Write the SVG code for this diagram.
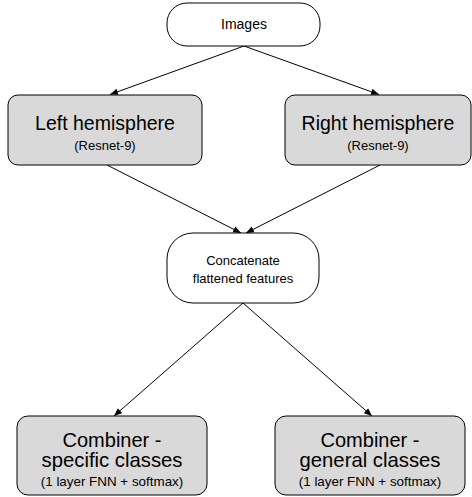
<svg xmlns="http://www.w3.org/2000/svg" width="472" height="497" viewBox="0 0 472 497">
<style>
.box{fill:#d9d9d9;stroke:#000;stroke-width:1}
.term{fill:#fff;stroke:#000;stroke-width:1}
text{font-family:"Liberation Sans",Arial,sans-serif;fill:#000;text-anchor:middle}
.big{font-size:19.5px}
.small{font-size:13px}
.mid{font-size:13px}
.conn{stroke:#000;stroke-width:1;fill:none;marker-end:url(#arr)}
</style>
<defs>
<marker id="arr" viewBox="0 0 10 10" refX="10" refY="5" markerWidth="8" markerHeight="8" markerUnits="userSpaceOnUse" orient="auto">
<path d="M0,1 L10,5 L0,9 Z" fill="#000"/>
</marker>
</defs>
<rect width="472" height="497" fill="#fff"/>
<g id="connectors">
<line class="conn" x1="244" y1="46" x2="110" y2="94.5"/>
<line class="conn" x1="244" y1="46" x2="379" y2="94.5"/>
<line class="conn" x1="107" y1="165" x2="241" y2="233"/>
<line class="conn" x1="380" y1="165" x2="246" y2="233"/>
<line class="conn" x1="243" y1="303" x2="114" y2="416"/>
<line class="conn" x1="243" y1="303" x2="372" y2="416"/>
</g>
<g id="images">
<rect class="term" x="167" y="3" width="153" height="43" rx="20"/>
<text class="mid" x="244" y="29" style="font-size:14px">Images</text>
</g>
<g id="left">
<rect class="box" x="8" y="95" width="194" height="70" rx="10"/>
<text class="big" x="105" y="130">Left hemisphere</text>
<text class="small" x="105" y="150">(Resnet-9)</text>
</g>
<g id="right">
<rect class="box" x="285" y="95" width="186" height="70" rx="10"/>
<text class="big" x="378" y="130">Right hemisphere</text>
<text class="small" x="378" y="150">(Resnet-9)</text>
</g>
<g id="concat">
<rect class="term" x="167" y="233" width="152" height="70" rx="26"/>
<text class="mid" x="243" y="265">Concatenate</text>
<text class="mid" x="243" y="283">flattened features</text>
</g>
<g id="comb-specific">
<rect class="box" x="17" y="416" width="190" height="79" rx="11"/>
<text class="big" x="112" y="447" style="font-size:20px">Combiner -</text>
<text class="big" x="112" y="467" style="font-size:20.3px">specific classes</text>
<text class="small" x="112" y="486" style="font-size:13.4px">(1 layer FNN + softmax)</text>
</g>
<g id="comb-general">
<rect class="box" x="275" y="416" width="190" height="79" rx="11"/>
<text class="big" x="370" y="447" style="font-size:20px">Combiner -</text>
<text class="big" x="370" y="467" style="font-size:20.3px">general classes</text>
<text class="small" x="370" y="486" style="font-size:13.4px">(1 layer FNN + softmax)</text>
</g>
</svg>
